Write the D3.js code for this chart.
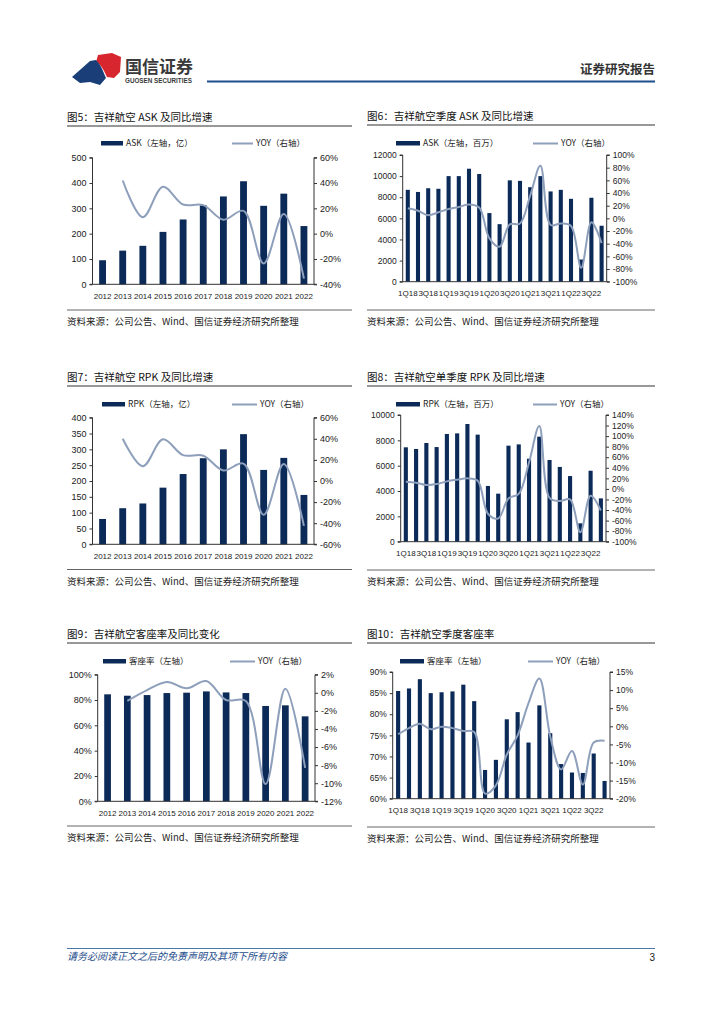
<!DOCTYPE html>
<html><head><meta charset="utf-8">
<script src="https://cdn.jsdelivr.net/npm/d3@7"></script>
<style>
body{margin:0;background:#fff;}
svg{display:block;}
</style></head>
<body><svg id="page" width="724" height="1024"></svg>
<script>
// ---------------- DATA ----------------
const years = ['2012','2013','2014','2015','2016','2017','2018','2019','2020','2021','2022'];
const quarters = ['1Q18','2Q18','3Q18','4Q18','1Q19','2Q19','3Q19','4Q19','1Q20','2Q20','3Q20','4Q20','1Q21','2Q21','3Q21','4Q21','1Q22','2Q22','3Q22','4Q22'];
const quarterLabels = ['1Q18','3Q18','1Q19','3Q19','1Q20','3Q20','1Q21','3Q21','1Q22','3Q22'];

const askAnnual = [95,133,152,207,256,312,347,407,310,358,230];
const askAnnualYoy = [null,42,13,37,23,22.5,11,18,-23.5,15.5,-35.5];
const askQuarterly = [8700,8500,8850,8800,10000,10000,10700,10200,6500,5450,9600,9550,8950,10000,8550,8700,7850,2100,7950,5300];
const askQuarterlyYoy = [15.8,12,5,9.5,14.7,18,22,17,-31.6,-44.7,-9.5,-8,36,83,-10.5,-8,-12,-78,-6,-39];

const rpkAnnual = [80,114,129,179,222,272,300,348,235,273,156];
const rpkAnnualYoy = [null,40,14,39.5,24.5,24,10,16.5,-32,16,-42.5];
const rpkQuarterly = [7450,7320,7790,7470,8500,8550,9290,8450,4400,3790,7580,7680,6550,8290,6450,5900,5180,1450,5600,3420];
const rpkQuarterlyYoy = [13.7,11.8,7.4,9.3,14.3,17.5,20,15.6,-47,-56,-18,-9.5,50,119,-17,-23,-20,-82,-13,-41];

const lfAnnual = [84.5,83.4,83.9,85.5,85.8,86.8,86,85.5,75.3,75.8,67.1];
const lfAnnualYoy = [null,-0.9,0.3,1.2,0.5,1.3,-0.8,-0.9,-10.1,0.45,-8.3];
const lfQuarterly = [85.5,86.1,88.3,85.0,85.2,85.4,87.0,83.1,66.8,69.2,78.8,80.5,73.3,82.1,75.5,68.2,66.2,66.1,70.7,64.2];
const lfQuarterlyYoy = [-2.2,-0.5,0.7,-0.8,-0.1,-0.5,-1.3,-1.6,-18.6,-16.3,-7.8,-2.5,6.4,13.2,-2.8,-11.9,-6.8,-16.1,-4.5,-4.0];

const askAnnualTicks = [0,100,200,300,400,500];
const askAnnualYoyTicks = [-40,-20,0,20,40,60];
const askQuarterlyTicks = [0,2000,4000,6000,8000,10000,12000];
const askQuarterlyYoyTicks = [-100,-80,-60,-40,-20,0,20,40,60,80,100];
const rpkAnnualTicks = [0,50,100,150,200,250,300,350,400];
const rpkAnnualYoyTicks = [-60,-40,-20,0,20,40,60];
const rpkQuarterlyTicks = [0,2000,4000,6000,8000,10000];
const rpkQuarterlyYoyTicks = [-100,-80,-60,-40,-20,0,20,40,60,80,100,120,140];
const lfAnnualTicks = [0,20,40,60,80,100];
const lfAnnualYoyTicks = [-12,-10,-8,-6,-4,-2,0,2];
const lfQuarterlyTicks = [60,65,70,75,80,85,90];
const lfQuarterlyYoyTicks = [-20,-15,-10,-5,0,5,10,15];

const sourceText = '资料来源：公司公告、Wind、国信证券经济研究所整理';

// ---------------- STYLE ----------------
const BAR = '#0b2a58';
const LINE = '#8e9fbb';
const AXIS = '#333';
const NUMFONT = '"Liberation Sans", Arial, "Noto Sans CJK SC", sans-serif';
const CJK = '"Noto Sans CJK SC", "Liberation Sans", sans-serif';

const svg = d3.select('#page');
svg.append('rect').attr('width',724).attr('height',1024).attr('fill','#fff');

// ---------------- HEADER ----------------
const logo = svg.append('g');
logo.append('path').attr('d','M98,55 L112,53 L121,57 L120,72 L114,78 L107,77 C104,72 103,66 96,62 Z').attr('fill','#d7262e');
logo.append('path').attr('d','M72,77 L90,61 L96,60 C101,65 103,71 106,78 L100,85 L90,82 L80,83 Z').attr('fill','#1a3f78');
svg.append('text').attr('x',125).attr('y',73).attr('font-family',CJK).attr('font-size',17).attr('font-weight',700).attr('fill','#3a3a3a').text('国信证券');
svg.append('text').attr('x',125).attr('y',83).attr('font-family',NUMFONT).attr('font-size',6.3).attr('font-weight',700).attr('fill','#3a3a3a').text('GUOSEN SECURITIES');
svg.append('text').attr('x',655).attr('y',74).attr('text-anchor','end').attr('font-family',CJK).attr('font-size',12.5).attr('font-weight',700).attr('fill','#333').text('证券研究报告');
svg.append('line').attr('x1',207).attr('x2',655).attr('y1',81.5).attr('y2',81.5).attr('stroke','#1d4f8c').attr('stroke-width',2);

// ---------------- FOOTER ----------------
svg.append('line').attr('x1',67).attr('x2',655).attr('y1',948.5).attr('y2',948.5).attr('stroke','#4a78a8').attr('stroke-width',1);
svg.append('text').attr('x',67).attr('y',960).attr('font-family',CJK).attr('font-size',10).attr('font-style','italic').attr('fill','#1f4e8c').text('请务必阅读正文之后的免责声明及其项下所有内容');
svg.append('text').attr('x',655).attr('y',961).attr('text-anchor','end').attr('font-family',NUMFONT).attr('font-size',10).attr('fill','#222').text('3');

// ---------------- CHART FUNCTION ----------------
function drawChart(c){
  const g = svg.append('g');
  g.append('text').attr('x',c.px).attr('y',c.titleY).attr('font-family',CJK).attr('font-size',10.5).attr('fill','#111').text(c.title);
  g.append('line').attr('x1',c.px).attr('x2',c.px+c.pw).attr('y1',c.ruleY).attr('y2',c.ruleY).attr('stroke','#333').attr('stroke-width',1.2);
  g.append('line').attr('x1',c.px).attr('x2',c.px+c.pw).attr('y1',c.bottomRuleY).attr('y2',c.bottomRuleY).attr('stroke','#666').attr('stroke-width',1);
  g.append('text').attr('x',c.px).attr('y',c.bottomRuleY+15).attr('font-family',CJK).attr('font-size',9.5).attr('fill','#222').text(sourceText);

  const x = d3.scaleBand().domain(c.cats).range([c.x0,c.x1]).padding(0);
  const yL = d3.scaleLinear().domain(c.leftDomain).range([c.yBot,c.yTop]);
  const yR = d3.scaleLinear().domain(c.rightDomain).range([c.yBot,c.yTop]);
  const bw = x.step()*c.barFrac;

  g.append('g').selectAll('rect').data(c.bars).join('rect')
    .attr('x',(d,i)=>x(c.cats[i])+x.step()/2-bw/2)
    .attr('y',d=>yL(d))
    .attr('width',bw)
    .attr('height',d=>yL(c.leftDomain[0])-yL(d))
    .attr('fill',BAR);

  const leftAx = d3.axisLeft(yL).tickValues(c.leftTicks).tickSize(3).tickPadding(3).tickFormat(c.leftFmt);
  const rightAx = d3.axisRight(yR).tickValues(c.rightTicks).tickSize(3).tickPadding(3).tickFormat(c.rightFmt);
  const la = g.append('g').attr('transform',`translate(${c.x0},0)`).call(leftAx);
  const ra = g.append('g').attr('transform',`translate(${c.x1},0)`).call(rightAx);
  [la,ra].forEach(a=>{
    a.select('.domain').attr('stroke',AXIS).attr('d', a===la ? `M-3,${c.yTop}H0V${c.yBot}H-3` : `M3,${c.yTop}H0V${c.yBot}H3`);
    a.selectAll('.tick line').attr('stroke',AXIS);
    a.selectAll('.tick text').attr('font-family',NUMFONT).attr('font-size',c.tickFont).attr('fill','#222');
  });
  const bx = d3.axisBottom(x).tickValues(c.xLabels).tickSize(0).tickPadding(c.xPad);
  const ba = g.append('g').attr('transform',`translate(0,${c.yBot})`).call(bx);
  ba.select('.domain').attr('stroke',AXIS).attr('d',`M${c.x0},0H${c.x1}`);
  ba.selectAll('.tick text').attr('font-family',NUMFONT).attr('font-size',c.xFont).attr('fill','#222');

  const line = d3.line()
    .defined(d=>d!=null)
    .x((d,i)=>x(c.cats[i])+x.step()/2)
    .y(d=>yR(d))
    .curve(d3.curveCatmullRom.alpha(0.5));
  g.append('path').datum(c.yoy).attr('d',line).attr('fill','none').attr('stroke',LINE).attr('stroke-width',2);

  g.append('rect').attr('x',c.lg[0]).attr('y',c.legendY-2).attr('width',c.lg[1]-c.lg[0]).attr('height',4.5).attr('fill',BAR);
  g.append('text').attr('x',c.lg[1]+3).attr('y',c.legendY+3).attr('font-family',CJK).attr('font-size',8.5).attr('fill','#222').text(c.barName);
  g.append('line').attr('x1',c.lg[2]).attr('x2',c.lg[3]).attr('y1',c.legendY+0.5).attr('y2',c.legendY+0.5).attr('stroke',LINE).attr('stroke-width',2);
  g.append('text').attr('x',c.lg[3]+3).attr('y',c.legendY+3).attr('font-family',CJK).attr('font-size',8.5).attr('fill','#222').text(c.lineName);
}

const num = d=>String(d);
const pct = d=>d+'%';

drawChart({title:'图5：吉祥航空 ASK 及同比增速', px:67, pw:285, titleY:121, ruleY:126, bottomRuleY:310, legendY:143,
  cats:years, bars:askAnnual, yoy:askAnnualYoy, x0:92.5, x1:314, yTop:157.7, yBot:284.3,
  leftDomain:[0,500], rightDomain:[-40,60], leftTicks:askAnnualTicks, rightTicks:askAnnualYoyTicks, leftFmt:num, rightFmt:pct,
  xLabels:years, barFrac:0.34, tickFont:9, xFont:8, xPad:9,
  lg:[101,123,232,253], barName:'ASK（左轴，亿）', lineName:'YOY（右轴）'});

drawChart({title:'图6：吉祥航空季度 ASK 及同比增速', px:367, pw:288, titleY:120, ruleY:125, bottomRuleY:310, legendY:143,
  cats:quarters, bars:askQuarterly, yoy:askQuarterlyYoy, x0:402.7, x1:606.7, yTop:155, yBot:281.7,
  leftDomain:[0,12000], rightDomain:[-100,100], leftTicks:askQuarterlyTicks, rightTicks:askQuarterlyYoyTicks, leftFmt:num, rightFmt:pct,
  xLabels:quarterLabels, barFrac:0.4, tickFont:8.5, xFont:8, xPad:9,
  lg:[396,420,533,558], barName:'ASK（左轴，百万）', lineName:'YOY（右轴）'});

drawChart({title:'图7：吉祥航空 RPK 及同比增速', px:67, pw:285, titleY:381, ruleY:386, bottomRuleY:569.5, legendY:404,
  cats:years, bars:rpkAnnual, yoy:rpkAnnualYoy, x0:92.5, x1:314, yTop:417.7, yBot:544.3,
  leftDomain:[0,400], rightDomain:[-60,60], leftTicks:rpkAnnualTicks, rightTicks:rpkAnnualYoyTicks, leftFmt:num, rightFmt:pct,
  xLabels:years, barFrac:0.34, tickFont:9, xFont:8, xPad:9,
  lg:[102,125,232,257], barName:'RPK（左轴，亿）', lineName:'YOY（右轴）'});

drawChart({title:'图8：吉祥航空单季度 RPK 及同比增速', px:367, pw:288, titleY:381, ruleY:386, bottomRuleY:570, legendY:404,
  cats:quarters, bars:rpkQuarterly, yoy:rpkQuarterlyYoy, x0:400.7, x1:606, yTop:415, yBot:541.7,
  leftDomain:[0,10000], rightDomain:[-100,140], leftTicks:rpkQuarterlyTicks, rightTicks:rpkQuarterlyYoyTicks, leftFmt:num, rightFmt:pct,
  xLabels:quarterLabels, barFrac:0.4, tickFont:8.5, xFont:8, xPad:9,
  lg:[396,420,533,557], barName:'RPK（左轴，百万）', lineName:'YOY（右轴）'});

drawChart({title:'图9：吉祥航空客座率及同比变化', px:67, pw:285, titleY:638, ruleY:643, bottomRuleY:826, legendY:661,
  cats:years, bars:lfAnnual, yoy:lfAnnualYoy, x0:97.7, x1:315, yTop:674.7, yBot:801.3,
  leftDomain:[0,100], rightDomain:[-12,2], leftTicks:lfAnnualTicks, rightTicks:lfAnnualYoyTicks, leftFmt:pct, rightFmt:pct,
  xLabels:years, barFrac:0.34, tickFont:9, xFont:8, xPad:9,
  lg:[103,126,230,255], barName:'客座率（左轴）', lineName:'YOY（右轴）'});

drawChart({title:'图10：吉祥航空季度客座率', px:367, pw:288, titleY:638, ruleY:643, bottomRuleY:827, legendY:661,
  cats:quarters, bars:lfQuarterly, yoy:lfQuarterlyYoy, x0:392.7, x1:610, yTop:672, yBot:798.7,
  leftDomain:[60,90], rightDomain:[-20,15], leftTicks:lfQuarterlyTicks, rightTicks:lfQuarterlyYoyTicks, leftFmt:pct, rightFmt:pct,
  xLabels:quarterLabels, barFrac:0.38, tickFont:8.5, xFont:8, xPad:9,
  lg:[400,424,528,553], barName:'客座率（左轴）', lineName:'YOY（右轴）'});
</script>
</body></html>
